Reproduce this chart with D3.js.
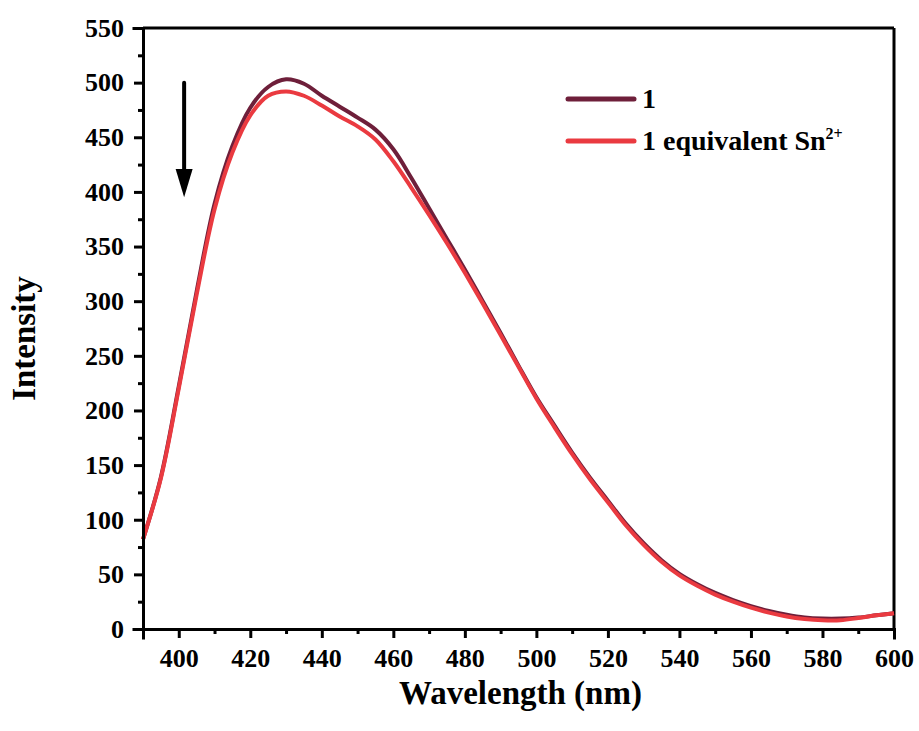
<!DOCTYPE html>
<html>
<head>
<meta charset="utf-8">
<script src="https://cdn.jsdelivr.net/npm/d3@7"></script>
<style>
  html, body { margin: 0; padding: 0; background: #fff; }
  svg { display: block; }
  text { font-family: "Liberation Serif", "Times New Roman", serif; font-weight: bold; fill: #000; }
  .axis path, .axis line { stroke: #000; stroke-width: 3; }
  .axis text { font-size: 26px; }
</style>
</head>
<body>
<div id="chart"></div>
<script>
// wavelength grid (nm)
const wavelengths = [390, 395, 400, 405, 410, 415, 420, 425, 430, 435, 440, 445, 450, 455, 460,
  465, 470, 475, 480, 485, 490, 495, 500, 505, 510, 515, 520, 525, 530, 535, 540, 545, 550,
  555, 560, 565, 570, 575, 580, 585, 590, 595, 600];

// series "1"
const seriesFree = [82, 139, 222, 309, 389, 442, 477, 496, 503, 499, 488, 478, 468, 457, 439,
  413, 385, 357, 329, 300, 271, 241, 212, 186.5, 161.5, 138.5, 117.5, 96.5, 78.5, 63, 50.5, 41, 33,
  26.5, 21, 16.5, 13, 10.5, 9.5, 9.5, 10.5, 12.5, 14.5];

// series "1 equivalent Sn2+"
const seriesSn = [82, 138, 220, 306, 384, 436, 470, 488, 492, 488, 479, 469, 460, 448, 428,
  404, 379, 353, 326, 298, 269, 240, 211, 185, 160, 137, 116, 95, 77, 61.5, 49, 39.5, 31.5,
  25, 19.5, 15, 11.5, 9.2, 8, 8, 10, 12.5, 14.5];

const yMajor = d3.range(0, 551, 50);
const yMinor = d3.range(25, 550, 50);
const xMajor = d3.range(400, 601, 20);
const xMinor = d3.range(390, 600, 20);

const W = 919, H = 731;
const margin = { top: 28, right: 25, bottom: 102, left: 143 };

const svg = d3.select("#chart").append("svg")
  .attr("width", W).attr("height", H);

const x = d3.scaleLinear().domain([390, 600]).range([margin.left, W - margin.right]);
const y = d3.scaleLinear().domain([0, 550]).range([H - margin.bottom, margin.top]);

// frame top / right
svg.append("line").attr("x1", x(390)).attr("x2", x(600)).attr("y1", y(550)).attr("y2", y(550))
  .attr("stroke", "#000").attr("stroke-width", 3);
svg.append("line").attr("x1", x(600)).attr("x2", x(600)).attr("y1", y(550)).attr("y2", y(0))
  .attr("stroke", "#000").attr("stroke-width", 3);

// curves
const line = d3.line().curve(d3.curveCatmullRom.alpha(0.5));
const series = [
  { name: "1", values: seriesFree, color: "#6e1f3a" },
  { name: "Sn", values: seriesSn, color: "#ea3a40" }
];
series.forEach(s => {
  svg.append("path")
    .attr("d", line(wavelengths.map((w, i) => [x(w), y(s.values[i])])))
    .attr("fill", "none")
    .attr("stroke", s.color)
    .attr("stroke-width", 4)
    .attr("stroke-linejoin", "round");
});

// axes
const gy = svg.append("g").attr("class", "axis").attr("transform", `translate(${x(390)},0)`);
gy.call(d3.axisLeft(y).tickValues(yMajor).tickSize(9).tickPadding(10).tickFormat(d3.format("d")));
svg.append("g").attr("class", "axis").attr("transform", `translate(${x(390)},0)`)
  .call(d3.axisLeft(y).tickValues(yMinor).tickSize(5).tickFormat(""))
  .select(".domain").remove();

const gx = svg.append("g").attr("class", "axis").attr("transform", `translate(0,${y(0)})`);
gx.call(d3.axisBottom(x).tickValues(xMajor).tickSize(9).tickPadding(11).tickFormat(d3.format("d")));
svg.append("g").attr("class", "axis").attr("transform", `translate(0,${y(0)})`)
  .call(d3.axisBottom(x).tickValues(xMinor).tickSize(5).tickFormat(""))
  .select(".domain").remove();
svg.selectAll(".axis .domain").attr("stroke-linecap", "square");

// axis titles
svg.append("text")
  .attr("x", (x(390) + x(600)) / 2 + 2)
  .attr("y", 704)
  .attr("text-anchor", "middle")
  .style("font-size", "33px")
  .text("Wavelength (nm)");

svg.append("text")
  .attr("transform", `translate(35,${(y(0) + y(550)) / 2 + 10}) rotate(-90)`)
  .attr("text-anchor", "middle")
  .style("font-size", "33px")
  .text("Intensity");

// arrow (quenching)
const ax = x(401.5);
svg.append("line")
  .attr("x1", ax).attr("x2", ax)
  .attr("y1", y(500)).attr("y2", y(420))
  .attr("stroke", "#000").attr("stroke-width", 4).attr("stroke-linecap", "round");
svg.append("path")
  .attr("d", `M${ax - 8.5},${y(421)} L${ax + 8.5},${y(421)} L${ax},${y(395)} Z`)
  .attr("fill", "#000");

// legend
const legend = svg.append("g").attr("transform", "translate(568,99)");
const legendItems = [
  { color: "#6e1f3a", label: "1" },
  { color: "#ea3a40", label: "1 equivalent Sn", sup: "2+" }
];
legendItems.forEach((d, i) => {
  const g = legend.append("g").attr("transform", `translate(0,${i * 42})`);
  g.append("line").attr("x1", 0).attr("x2", 66)
    .attr("stroke", d.color).attr("stroke-width", 5).attr("stroke-linecap", "round");
  const t = g.append("text").attr("x", 74).attr("y", 9).style("font-size", "28px").text(d.label);
  if (d.sup) {
    t.append("tspan").attr("dy", -11).style("font-size", "16px").text(d.sup);
  }
});
</script>
</body>
</html>
